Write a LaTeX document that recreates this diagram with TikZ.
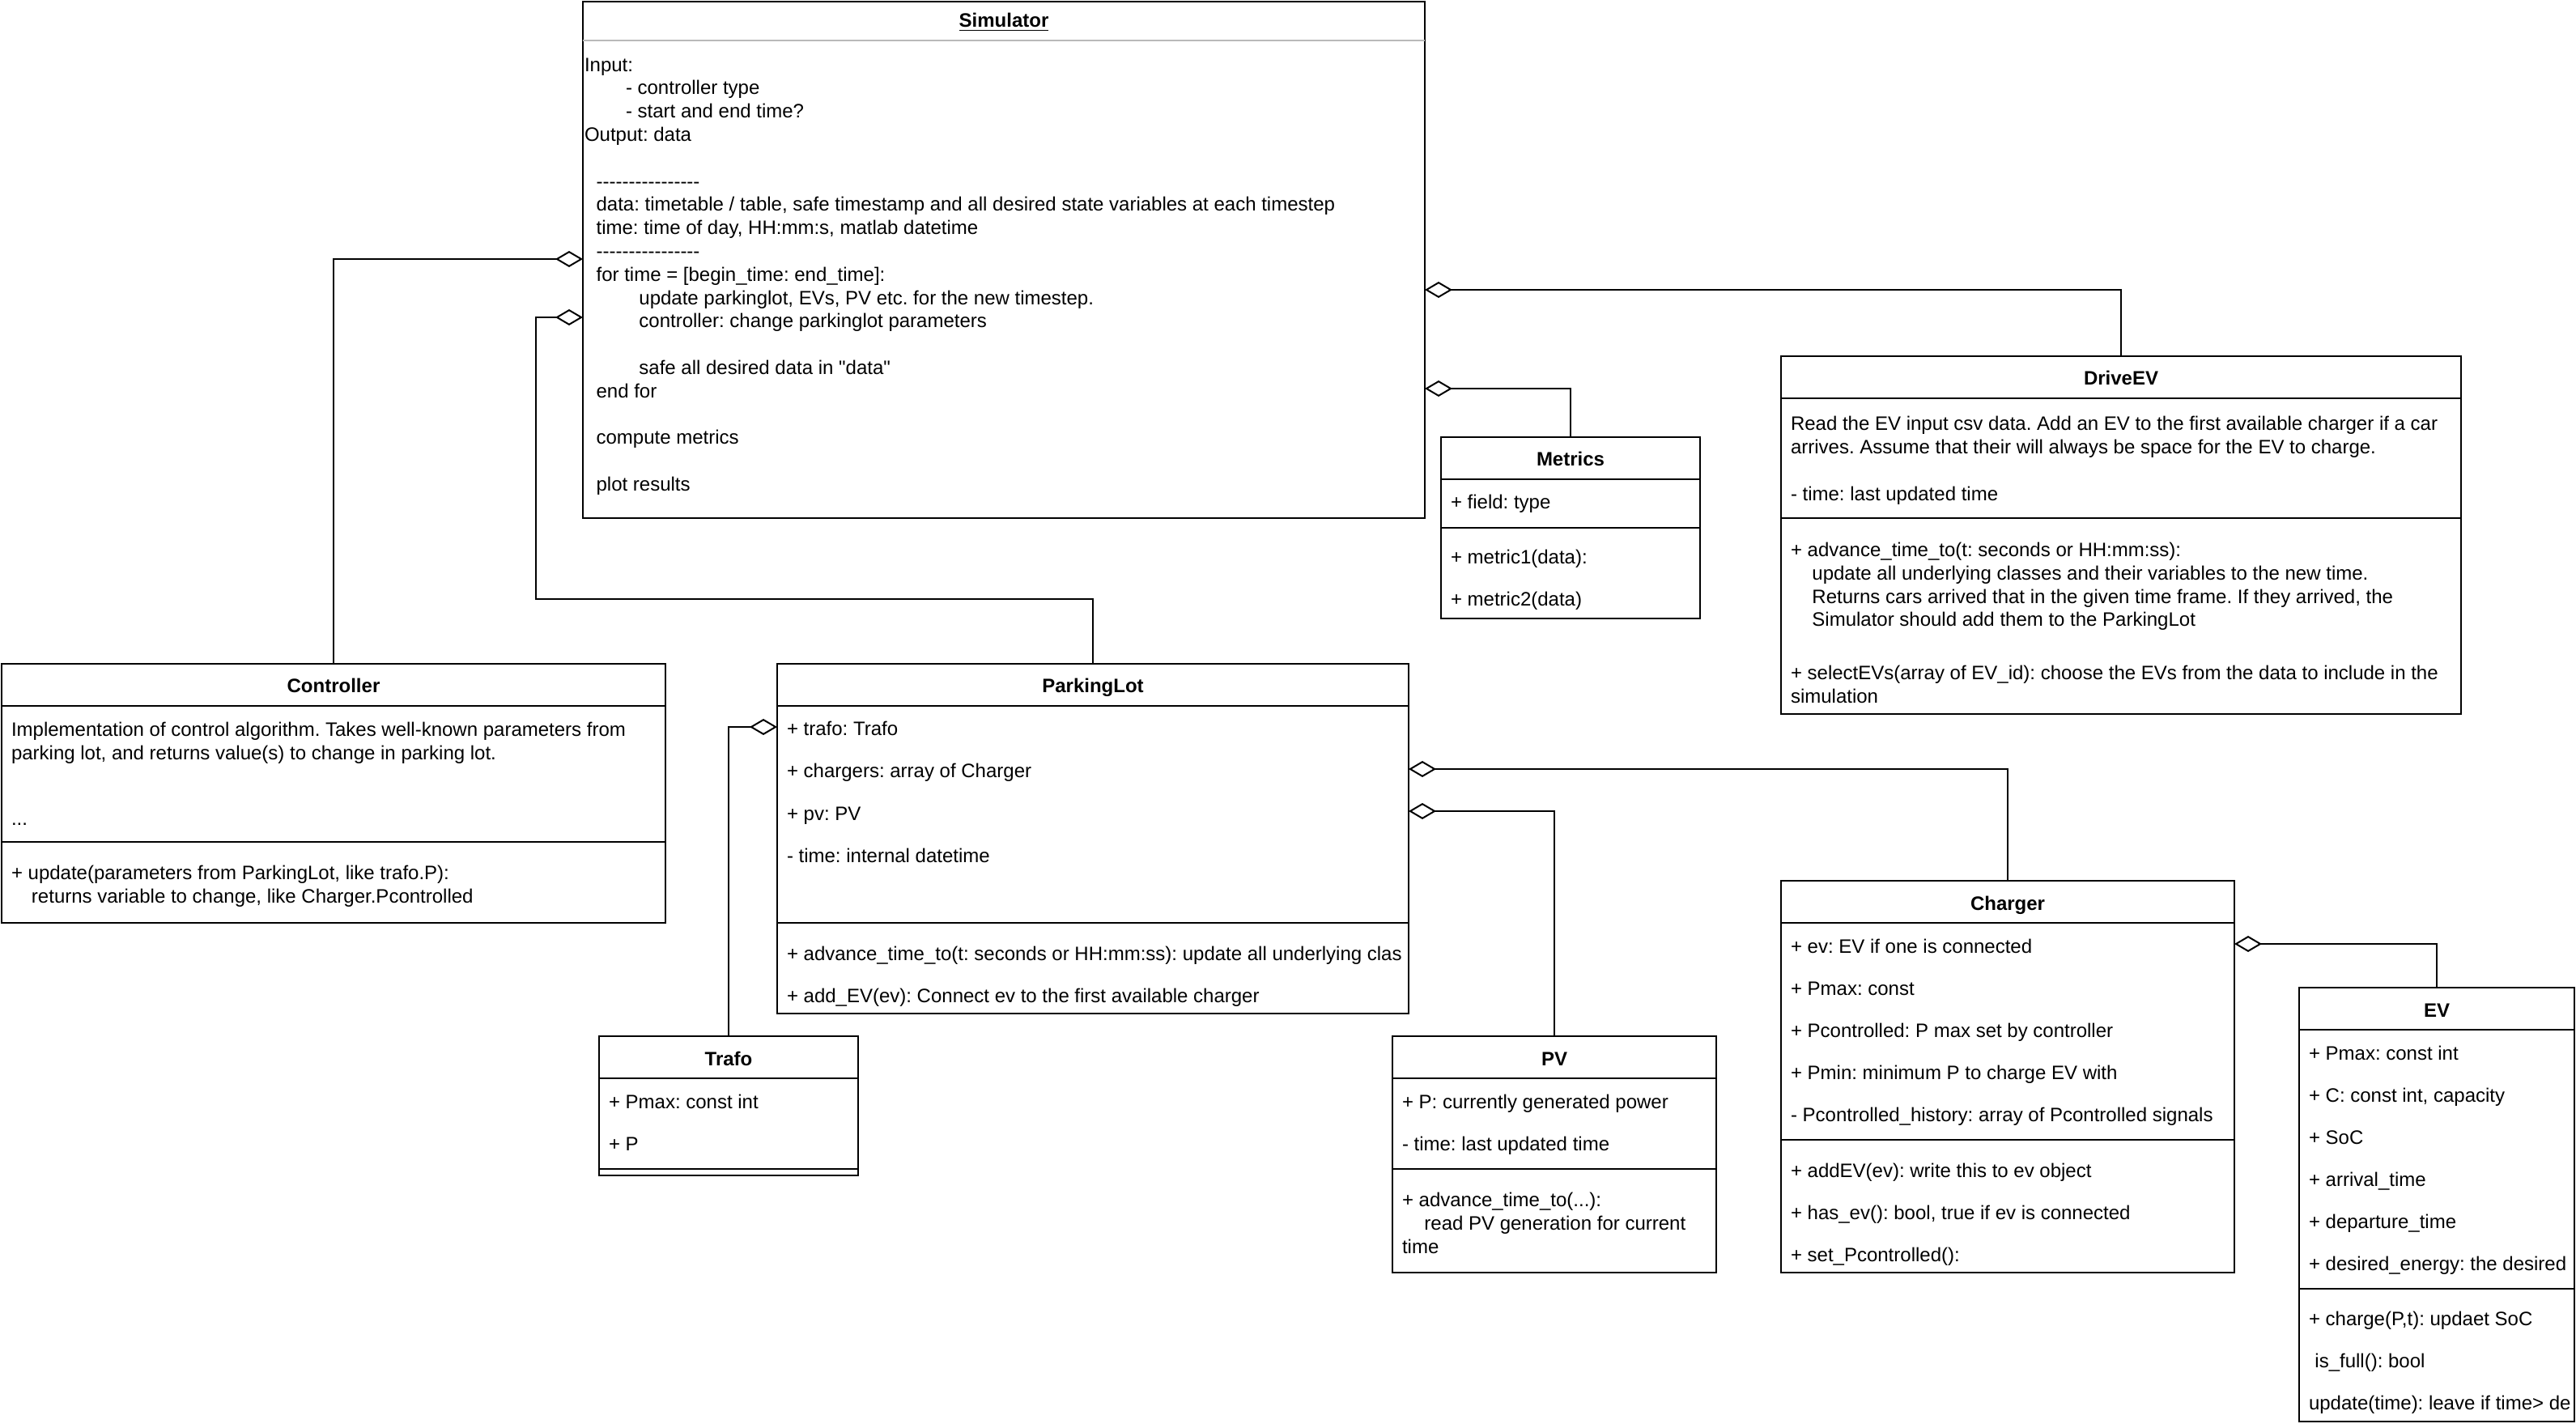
\documentclass[tikz,border=0pt]{standalone}
\usepackage{fontspec}
\setmainfont{Liberation Sans}[Ligatures=TeXOff]
\usetikzlibrary{arrows.meta}
\begin{document}
\frenchspacing
\begin{tikzpicture}[x=1pt,y=-1pt,
  cls/.style={draw, line width=1pt, inner sep=0pt, outer sep=0pt, anchor=north west},
  txt/.style={anchor=base west, inner sep=0pt, outer sep=0pt, yshift=-1.5pt, font=\fontsize{12}{14.4}\selectfont},
  ttl/.style={anchor=base, inner sep=0pt, outer sep=0pt, yshift=-1pt, font=\fontsize{12}{14.4}\selectfont\bfseries},
  secline/.style={line width=1pt},
  agg/.style={line width=1pt, {Diamond[open,length=17pt,width=10pt]}-}]
\useasboundingbox (0,0) rectangle (1591,882);
\fill[white] (0,0) rectangle (1591,882);

% ---------- boxes ----------
\node[cls, minimum width=520pt, minimum height=319pt] (sim) at (360,1) {};
\node[cls, minimum width=410pt, minimum height=160pt] (ctrl) at (1,410) {};
\node[cls, minimum width=390pt, minimum height=216pt] (park) at (480,410) {};
\node[cls, minimum width=160pt, minimum height=86pt] (trafo) at (370,640) {};
\node[cls, minimum width=200pt, minimum height=146pt] (pv) at (860,640) {};
\node[cls, minimum width=160pt, minimum height=112pt] (metrics) at (890,270) {};
\node[cls, minimum width=420pt, minimum height=221pt] (drive) at (1100,220) {};
\node[cls, minimum width=280pt, minimum height=242pt] (charger) at (1100,544) {};
\node[cls, minimum width=170pt, minimum height=268pt] (ev) at (1420,610) {};

% ---------- section lines ----------
\draw[line width=1pt, gray!55] (sim.west |- 0,25) -- (sim.east |- 0,25);
\draw[secline] (ctrl.west |- 0,436) -- (ctrl.east |- 0,436);
\draw[secline] (ctrl.west |- 0,520) -- (ctrl.east |- 0,520);
\draw[secline] (park.west |- 0,436) -- (park.east |- 0,436);
\draw[secline] (park.west |- 0,570) -- (park.east |- 0,570);
\draw[secline] (trafo.west |- 0,666) -- (trafo.east |- 0,666);
\draw[secline] (trafo.west |- 0,722) -- (trafo.east |- 0,722);
\draw[secline] (pv.west |- 0,666) -- (pv.east |- 0,666);
\draw[secline] (pv.west |- 0,722) -- (pv.east |- 0,722);
\draw[secline] (metrics.west |- 0,296) -- (metrics.east |- 0,296);
\draw[secline] (metrics.west |- 0,326) -- (metrics.east |- 0,326);
\draw[secline] (drive.west |- 0,246) -- (drive.east |- 0,246);
\draw[secline] (drive.west |- 0,320) -- (drive.east |- 0,320);
\draw[secline] (charger.west |- 0,570) -- (charger.east |- 0,570);
\draw[secline] (charger.west |- 0,704) -- (charger.east |- 0,704);
\draw[secline] (ev.west |- 0,636) -- (ev.east |- 0,636);
\draw[secline] (ev.west |- 0,796) -- (ev.east |- 0,796);

% ---------- Simulator ----------
\node[ttl] (simT) at (620,16) {\underline{Simulator}};
\node[txt] (s1) at (361,42.6) {Input:};
\node[txt] (s2) at (386.5,57.0) {- controller type};
\node[txt] (s3) at (386.5,71.4) {- start and end time?};
\node[txt] (s4) at (361,85.8) {Output: data};
\node[txt] (s5) at (368.3,114.6) {----------------};
\node[txt] (s6) at (368.3,129.0) {data: timetable / table, safe timestamp and all desired state variables at each timestep};
\node[txt] (s7) at (368.3,143.4) {time: time of day, HH:mm:s, matlab datetime};
\node[txt] (s8) at (368.3,157.8) {----------------};
\node[txt] (s9) at (368.3,172.2) {for time = [begin\_time: end\_time]:};
\node[txt] (s10) at (394.7,186.6) {update parkinglot, EVs, PV etc. for the new timestep.};
\node[txt] (s11) at (394.7,201.0) {controller: change parkinglot parameters};
\node[txt] (s12) at (394.7,229.8) {safe all desired data in "data"};
\node[txt] (s13) at (368.3,244.2) {end for};
\node[txt] (s14) at (368.3,273.0) {compute metrics};
\node[txt] (s15) at (368.3,301.8) {plot results};

% ---------- Controller ----------
\node[ttl] (ctrlT) at (206,427) {Controller};
\node[txt] (c1) at (7,453.5) {Implementation of control algorithm. Takes well-known parameters from};
\node[txt] (c2) at (7,467.9) {parking lot, and returns value(s) to change in parking lot.};
\node[txt] (c3) at (7,508) {...};
\node[txt] (c4) at (7,541.8) {+ update(parameters from ParkingLot, like trafo.P):};
\node[txt] (c5) at (19.5,556.2) {returns variable to change, like Charger.Pcontrolled};

% ---------- ParkingLot ----------
\node[ttl] (parkT) at (675,427) {ParkingLot};
\node[txt] (p1) at (486,453) {+ trafo: Trafo};
\node[txt] (p2) at (486,479) {+ chargers: array of Charger};
\node[txt] (p3) at (486,505) {+ pv: PV};
\node[txt] (p4) at (486,531) {- time: internal datetime};
\node[txt] (p5) at (486,591.5) {+ advance\_time\_to(t: seconds or HH:mm:ss): update all underlying clas};
\node[txt] (p6) at (486,617.5) {+ add\_EV(ev): Connect ev to the first available charger};

% ---------- Trafo ----------
\node[ttl] (trafoT) at (450,657) {Trafo};
\node[txt] (t1) at (376,683) {+ Pmax: const int};
\node[txt] (t2) at (376,709) {+ P};

% ---------- PV ----------
\node[ttl] (pvT) at (960,657) {PV};
\node[txt] (v1) at (866,683) {+ P: currently generated power};
\node[txt] (v2) at (866,709) {- time: last updated time};
\node[txt] (v3) at (866,743.9) {+ advance\_time\_to(...):};
\node[txt] (v4) at (879.7,758.3) {read PV generation for current};
\node[txt] (v5) at (866,772.7) {time};

% ---------- Metrics ----------
\node[ttl] (metT) at (970,287) {Metrics};
\node[txt] (m1) at (896,313) {+ field: type};
\node[txt] (m2) at (896,347) {+ metric1(data):};
\node[txt] (m3) at (896,373) {+ metric2(data)};

% ---------- DriveEV ----------
\node[ttl] (drvT) at (1310,237) {DriveEV};
\node[txt] (d1) at (1106,264.4) {Read the EV input csv data. Add an EV to the first available charger if a car};
\node[txt] (d2) at (1106,278.8) {arrives. Assume that their will always be space for the EV to charge.};
\node[txt] (d3) at (1106,308.0) {- time: last updated time};
\node[txt] (d4) at (1106,342.3) {+ advance\_time\_to(t: seconds or HH:mm:ss):};
\node[txt] (d5) at (1119.2,356.7) {update all underlying classes and their variables to the new time.};
\node[txt] (d6) at (1119.2,371.1) {Returns cars arrived that in the given time frame. If they arrived, the};
\node[txt] (d7) at (1119.2,385.5) {Simulator should add them to the ParkingLot};
\node[txt] (d8) at (1106,418.3) {+ selectEVs(array of EV\_id): choose the EVs from the data to include in the};
\node[txt] (d9) at (1106,432.7) {simulation};

% ---------- Charger ----------
\node[ttl] (chgT) at (1240,561) {Charger};
\node[txt] (g1) at (1106,587) {+ ev: EV if one is connected};
\node[txt] (g2) at (1106,613) {+ Pmax: const};
\node[txt] (g3) at (1106,639) {+ Pcontrolled: P max set by controller};
\node[txt] (g4) at (1106,665) {+ Pmin: minimum P to charge EV with};
\node[txt] (g5) at (1106,691) {- Pcontrolled\_history: array of Pcontrolled signals};
\node[txt] (g6) at (1106,725.5) {+ addEV(ev): write this to ev object};
\node[txt] (g7) at (1106,751.5) {+ has\_ev(): bool, true if ev is connected};
\node[txt] (g8) at (1106,777.5) {+ set\_Pcontrolled():};

% ---------- EV ----------
\node[ttl] (evT) at (1505,627) {EV};
\node[txt] (e1) at (1426,653) {+ Pmax: const int};
\node[txt] (e2) at (1426,679) {+ C: const int, capacity};
\node[txt] (e3) at (1426,705) {+ SoC};
\node[txt] (e4) at (1426,731) {+ arrival\_time};
\node[txt] (e5) at (1426,757) {+ departure\_time};
\node[txt] (e6) at (1426,783) {+ desired\_energy: the desired};
\node[txt] (e7) at (1426,817) {+ charge(P,t): updaet SoC};
\node[txt] (e8) at (1429.7,843) {is\_full(): bool};
\node[txt] (e9) at (1426,869) {update(time): leave if time> de};

% ---------- aggregations ----------
\draw[agg] (sim.west |- 0,160) -| (ctrl.north);
\draw[agg] (sim.west |- 0,196) -| (331,370) -| (park.north);
\draw[agg] (sim.east |- 0,179) -| (drive.north);
\draw[agg] (sim.east |- 0,240) -| (metrics.north);
\draw[agg] (park.west |- 0,449) -| (trafo.north);
\draw[agg] (park.east |- 0,475) -| (charger.north);
\draw[agg] (park.east |- 0,501) -| (pv.north);
\draw[agg] (charger.east |- 0,583) -| (ev.north);
\end{tikzpicture}
\end{document}
